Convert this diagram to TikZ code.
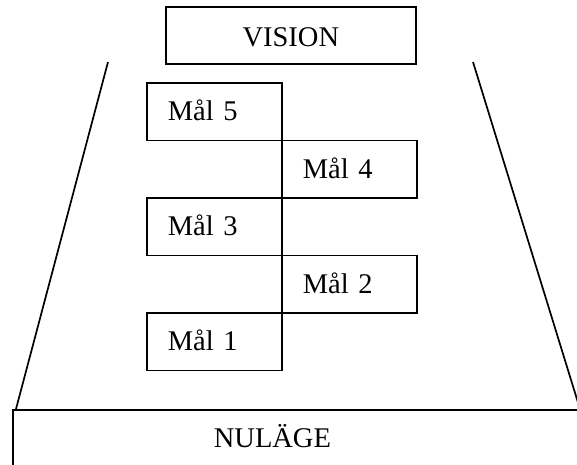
\documentclass[tikz,border=0pt]{standalone}
\usepackage{fontspec}
\setmainfont{Liberation Serif}
\begin{document}
\begin{tikzpicture}[x=1pt,y=-1pt,line width=1.7pt,
  box/.style={draw,line width=1.7pt,inner ysep=0pt,font=\fontsize{28.5}{32}\selectfont},
  mal/.style={box,anchor=north west,inner xsep=21pt,text width=93pt,align=left,text height=38pt,text depth=19.5pt},
  side/.style={line width=1.7pt}]
\useasboundingbox (0,0) rectangle (577,464);
\clip (0,0) rectangle (577,464);
\coordinate (lt) at (108,62);
\coordinate (lb) at (16,409);
\coordinate (rt) at (473,62);
\coordinate (rb) at (580,409);
\draw[side] (lt) -- (lb);
\draw[side] (rt) -- (rb);
\node[box,anchor=north west,minimum width=250pt,text height=40pt,text depth=17pt] (vision) at (165,6) {VISION};
\node[mal] (m5) at (146,82) {Mål 5};
\node[mal] (m4) at (281,139.5) {Mål 4};
\node[mal] (m3) at (146,197) {Mål 3};
\node[mal] (m2) at (281,254.5) {Mål 2};
\node[mal] (m1) at (146,312) {Mål 1};
\node[box,anchor=north west,inner xsep=201pt,text width=500pt,align=left,text height=38pt,text depth=40pt,fill=white] (nul) at (12,409) {NULÄGE};
\end{tikzpicture}
\end{document}
